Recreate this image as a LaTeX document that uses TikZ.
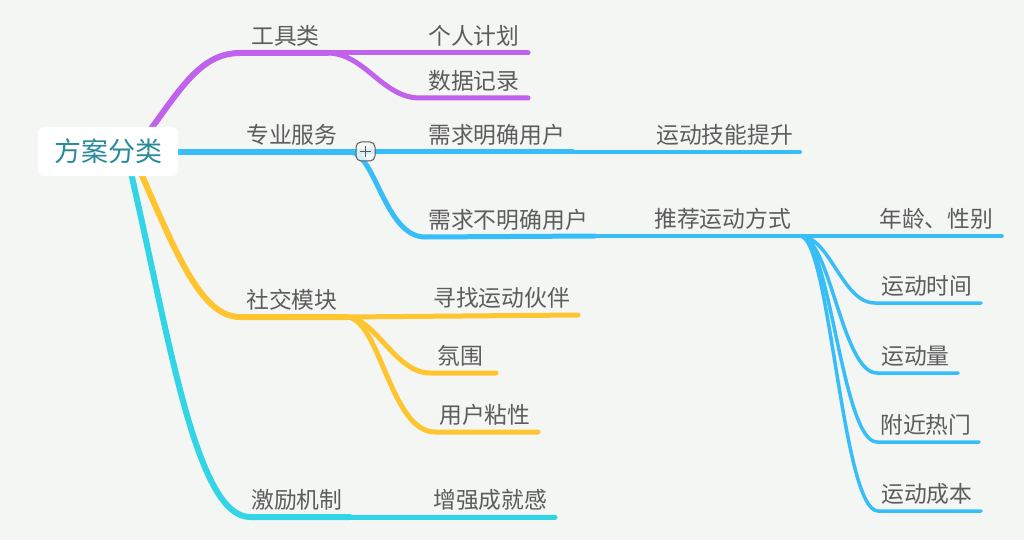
\documentclass[tikz,border=0pt]{standalone}
\usepackage{fontspec}
\setmainfont{Noto Sans CJK SC}
\definecolor{bg}{HTML}{F4F6F4}
\definecolor{cpur}{HTML}{C162EC}
\definecolor{cblu}{HTML}{37BDF8}
\definecolor{cyel}{HTML}{FFC531}
\definecolor{ccya}{HTML}{31D5E6}
\definecolor{txt}{HTML}{5C5C5C}
\definecolor{roottxt}{HTML}{2A8A9C}
\begin{document}
\begin{tikzpicture}[x=1pt,y=-1pt,
  lbl/.style={anchor=base west,inner sep=0pt,font=\fontsize{22.8}{26}\selectfont,text=txt},
  w1/.style={line width=6pt,line cap=round},
  w2/.style={line width=5pt,line cap=round},
  w3/.style={line width=4pt,line cap=round},
  w4/.style={line width=3.5pt,line cap=round},
  rootbox/.style={fill=white,rounded corners=6pt,minimum width=140pt,minimum height=49pt,inner sep=0pt,font=\fontsize{27}{32}\selectfont,text=roottxt},
  toggle/.style={draw=black!65,line width=1pt,fill=bg,fill opacity=0.85,rounded corners=5pt,minimum size=19pt,inner sep=0pt}]
\fill[bg] (0,0) rectangle (1024,540);
\useasboundingbox (0,0) rectangle (1024,540);

% purple branch
\coordinate (pS) at (145,137);
\coordinate (pA) at (240,53);
\coordinate (pB) at (327,53);
\coordinate (pC) at (528,53);
\coordinate (pD) at (420,98);
\coordinate (pE) at (528,98);
\draw[cpur,w1] (pS) .. controls (180,90) and (200,53) .. (pA) -- (pB);
\draw[cpur,w2] (pB) -- (pC);
\draw[cpur,w2] (pB) .. controls (365,53) and (382,98) .. (pD) -- (pE);

% blue branch
\coordinate (bS) at (170,152);
\coordinate (bA) at (350,152);
\coordinate (bB) at (573,152);
\coordinate (bC) at (800,152);
\coordinate (bD) at (425,237);
\coordinate (bE) at (595,236);
\coordinate (bF) at (800,236);
\coordinate (bG) at (1002,236);
\draw[cblu,w1] (bS) -- (bA);
\draw[cblu,w2] (bA) -- (bB);
\draw[cblu,w3] (bB) -- (bC);
\draw[cblu,w2] (bA) .. controls (375,152) and (385,237) .. (bD) -- (bE);
\draw[cblu,w3] (bE) -- (bF);
\draw[cblu,w4] (bF) -- (bG);
\coordinate (t1) at (875,303); \coordinate (t1e) at (981,303);
\coordinate (t2) at (877,373); \coordinate (t2e) at (958,373);
\coordinate (t3) at (877,442); \coordinate (t3e) at (979,442);
\coordinate (t4) at (878,511); \coordinate (t4e) at (981,511);
\draw[cblu,w4] (bF) .. controls (830,236) and (842,303) .. (t1) -- (t1e);
\draw[cblu,w4] (bF) .. controls (830,236) and (842,373) .. (t2) -- (t2e);
\draw[cblu,w4] (bF) .. controls (830,236) and (842,442) .. (t3) -- (t3e);
\draw[cblu,w4] (bF) .. controls (830,236) and (842,511) .. (t4) -- (t4e);

% yellow branch
\coordinate (yS) at (136,162);
\coordinate (yA) at (240,317);
\coordinate (yB) at (346,317);
\coordinate (yC) at (578,315);
\coordinate (yD) at (430,373);
\coordinate (yE) at (496,373);
\coordinate (yF) at (435,432);
\coordinate (yG) at (538,432);
\draw[cyel,w1] (yS) .. controls (175,250) and (200,317) .. (yA) -- (yB);
\draw[cyel,w2] (yB) -- (yC);
\draw[cyel,w2] (yB) .. controls (375,317) and (395,373) .. (yD) -- (yE);
\draw[cyel,w2] (yB) .. controls (380,317) and (390,432) .. (yF) -- (yG);

% cyan branch
\coordinate (cS) at (128,160);
\coordinate (cA) at (250,517);
\coordinate (cB) at (350,517);
\coordinate (cC) at (555,517);
\draw[ccya,w1] (cS) .. controls (168,330) and (195,517) .. (cA) -- (cB);
\draw[ccya,w2] (cB) -- (cC);

% root
\node[rootbox] (root) at (108,151.5) {方案分类};

% toggle
\node[toggle] (tog) at (365.5,151.5) {};
\draw[black!65,line width=1pt] ([xshift=-5.5pt]tog.center) -- ([xshift=5.5pt]tog.center)
  ([yshift=-5.5pt]tog.center) -- ([yshift=5.5pt]tog.center);

% labels
\node[lbl] (l1) at (251,44.5) {工具类};
\node[lbl] (l11) at (428,44.5) {个人计划};
\node[lbl] (l12) at (428,89.5) {数据记录};
\node[lbl] (l2) at (246,143.5) {专业服务};
\node[lbl] (l21) at (428,143.5) {需求明确用户};
\node[lbl] (l211) at (656,143.5) {运动技能提升};
\node[lbl] (l22) at (428,228) {需求不明确用户};
\node[lbl] (l221) at (654,227.5) {推荐运动方式};
\node[lbl] (m1) at (879,227.5) {年龄、性别};
\node[lbl] (m2) at (881,294.5) {运动时间};
\node[lbl] (m3) at (881,364.5) {运动量};
\node[lbl] (m4) at (880,433.5) {附近热门};
\node[lbl] (m5) at (881,502.5) {运动成本};
\node[lbl] (l3) at (246,308.5) {社交模块};
\node[lbl] (l31) at (433,306.5) {寻找运动伙伴};
\node[lbl] (l32) at (437,364.5) {氛围};
\node[lbl] (l33) at (439,423.5) {用户粘性};
\node[lbl] (l4) at (251,508.5) {激励机制};
\node[lbl] (l41) at (433,508.5) {增强成就感};
\end{tikzpicture}
\end{document}
